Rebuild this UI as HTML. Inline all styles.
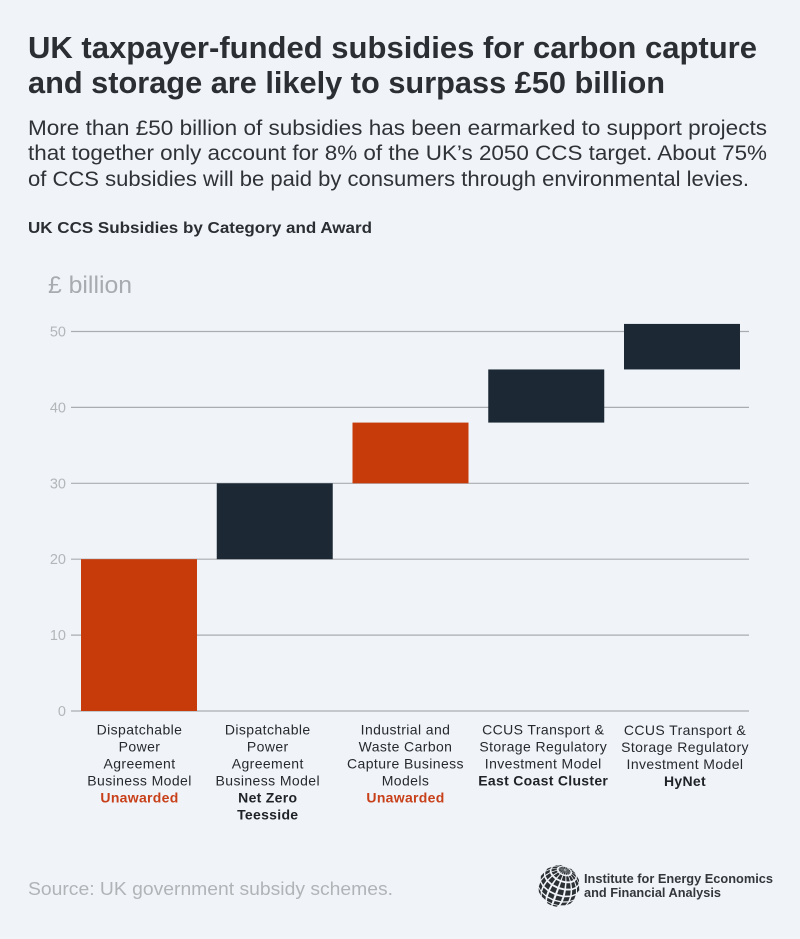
<!DOCTYPE html>
<html lang="en">
<head>
<meta charset="utf-8">
<title>UK CCS Subsidies</title>
<style>
html,body{margin:0;padding:0;background:#f0f4f9;}
svg{display:block;font-family:"Liberation Sans",sans-serif;}
</style>
</head>
<body>
<svg id="chart" xmlns="http://www.w3.org/2000/svg" width="800" height="939" viewBox="0 0 800 939">
  <rect x="0" y="0" width="800" height="939" fill="#f0f4f9"/>
  <g font-size="31" font-weight="700" fill="#2b2e33">
    <text x="28" y="58" textLength="729" lengthAdjust="spacingAndGlyphs">UK taxpayer-funded subsidies for carbon capture</text>
    <text x="28" y="93" textLength="637" lengthAdjust="spacingAndGlyphs">and storage are likely to surpass £50 billion</text>
  </g>
  <g font-size="21.5" fill="#2f3236">
    <text x="28" y="135" textLength="739" lengthAdjust="spacingAndGlyphs">More than £50 billion of subsidies has been earmarked to support projects</text>
    <text x="28" y="160" textLength="739" lengthAdjust="spacingAndGlyphs">that together only account for 8% of the UK’s 2050 CCS target. About 75%</text>
    <text x="28" y="186" textLength="721" lengthAdjust="spacingAndGlyphs">of CCS subsidies will be paid by consumers through environmental levies.</text>
  </g>
  <text x="28" y="233" font-size="16" font-weight="700" fill="#2b2e33" textLength="344" lengthAdjust="spacingAndGlyphs">UK CCS Subsidies by Category and Award</text>
  <text x="48" y="293" font-size="24" fill="#a8abaf" textLength="84" lengthAdjust="spacingAndGlyphs">£ billion</text>
  <g id="gridlayer"></g>
  <g id="barlayer"></g>
  <g id="labellayer"></g>
  <text x="28" y="895" font-size="18" fill="#b1b4b7" textLength="365" lengthAdjust="spacingAndGlyphs">Source: UK government subsidy schemes.</text>
  <g id="logo">
    <g id="globe"></g>
    <text x="584" y="883" font-size="12.5" font-weight="700" fill="#33373b" textLength="189" lengthAdjust="spacingAndGlyphs">Institute for Energy Economics</text>
    <text x="584" y="897" font-size="12.5" font-weight="700" fill="#33373b" textLength="137" lengthAdjust="spacingAndGlyphs">and Financial Analysis</text>
  </g>
</svg>
<script>
const categoryLines = [
  ["Dispatchable","Power","Agreement","Business Model"],
  ["Dispatchable","Power","Agreement","Business Model"],
  ["Industrial and","Waste Carbon","Capture Business","Models"],
  ["CCUS Transport &","Storage Regulatory","Investment Model"],
  ["CCUS Transport &","Storage Regulatory","Investment Model"]
];
const awardLines = [
  ["Unawarded"],
  ["Net Zero","Teesside"],
  ["Unawarded"],
  ["East Coast Cluster"],
  ["HyNet"]
];
const subsidyValues = [20, 10, 8, 7, 6];
const awardStatus = ["unawarded","awarded","unawarded","awarded","awarded"];
const yTicks = [0, 10, 20, 30, 40, 50];

const NS = "http://www.w3.org/2000/svg";
function yScale(v){ return 711 - v * 7.59; }
function xScale(i){ return 81 + i * 135.75; }
const barWidth = 116;
const colors = {unawarded:"#c73a09", awarded:"#1c2935"};
const textColors = {unawarded:"#c8401a", awarded:"#1f2226"};

function make(tag, attrs, parent){
  const el = document.createElementNS(NS, tag);
  for (const k in attrs) el.setAttribute(k, attrs[k]);
  parent.appendChild(el);
  return el;
}

const gridLayer = document.getElementById("gridlayer");
yTicks.forEach(function(t){
  const line = make("line", {x1:71, x2:749, y1:yScale(t), y2:yScale(t), stroke:"#a9adb2", "stroke-width":1.2}, gridLayer);
  
  
  const label = make("text", {x:66, y:yScale(t)+5, "text-anchor":"end", "font-size":14.5, fill:"#b3b6b9"}, gridLayer);
  
  
  label.textContent = t;
});

const barLayer = document.getElementById("barlayer");
let running = 0;
subsidyValues.forEach(function(v, i){
  const start = running;
  running += v;
  const rect = make("rect", {x:xScale(i), y:yScale(running), width:barWidth, height:yScale(start)-yScale(running), fill:colors[awardStatus[i]]}, barLayer);
  
  
});

const labelLayer = document.getElementById("labellayer");
function labelCenter(i){
  /* labels sit slightly off the bar centres in the reference */
  const nudge = i === 1 ? -7 : i === 2 ? -5 : i === 3 ? -3 : i === 4 ? 3 : 0.5;
  return xScale(i) + barWidth / 2 + nudge;
}
categoryLines.forEach(function(lines, i){
  const cx = labelCenter(i);
  const baseY = i === 4 ? 735 : 734.5;
  lines.forEach(function(str, j){
    const t = make("text", {x:cx, y:baseY + j*17, "text-anchor":"middle", "font-size":14, "letter-spacing":"0.4", fill:"#26292d"}, labelLayer);
    
    
    t.textContent = str;
  });
  awardLines[i].forEach(function(str, j){
    const t = make("text", {x:cx, y:baseY + (lines.length + j)*17, "text-anchor":"middle", "font-size":14, "font-weight":700, "letter-spacing":"0.3", fill:textColors[awardStatus[i]]}, labelLayer);
    
    
    t.textContent = str;
  });
});

/* decorative logo globe: tilted lat/long grid of dark patches */
const globe = document.getElementById("globe");
(function(){
  const cx = 559, cy = 886, r = 21, tilt = 0.62;
  function proj(lat, lon){
    const x = Math.cos(lat)*Math.sin(lon);
    const y = Math.sin(lat);
    const z = Math.cos(lat)*Math.cos(lon);
    const y2 = y*Math.cos(tilt) - z*Math.sin(tilt);
    const z2 = y*Math.sin(tilt) + z*Math.cos(tilt);
    const rot = -0.35;
    return {x: cx + r*(x*Math.cos(rot) - y2*Math.sin(rot)), y: cy - r*(x*Math.sin(rot) + y2*Math.cos(rot)), z: z2};
  }
  const dLat = Math.PI/9, dLon = Math.PI/8, gap = 0.13;
  for (let la = -Math.PI/2; la < Math.PI/2 - 0.01; la += dLat){
    for (let lo = -Math.PI; lo < Math.PI - 0.01; lo += dLon){
      const a = proj(la + dLat*gap, lo + dLon*gap);
      const b = proj(la + dLat*gap, lo + dLon*(1-gap));
      const c = proj(la + dLat*(1-gap), lo + dLon*(1-gap));
      const d = proj(la + dLat*(1-gap), lo + dLon*gap);
      if (a.z < 0 || b.z < 0 || c.z < 0 || d.z < 0) continue;
      const p = make("polygon", {points:[a,b,c,d].map(function(q){return q.x.toFixed(2)+","+q.y.toFixed(2);}).join(" "), fill:"#2b3034"}, globe);
      
      
    }
  }
})();
</script>
</body>
</html>
